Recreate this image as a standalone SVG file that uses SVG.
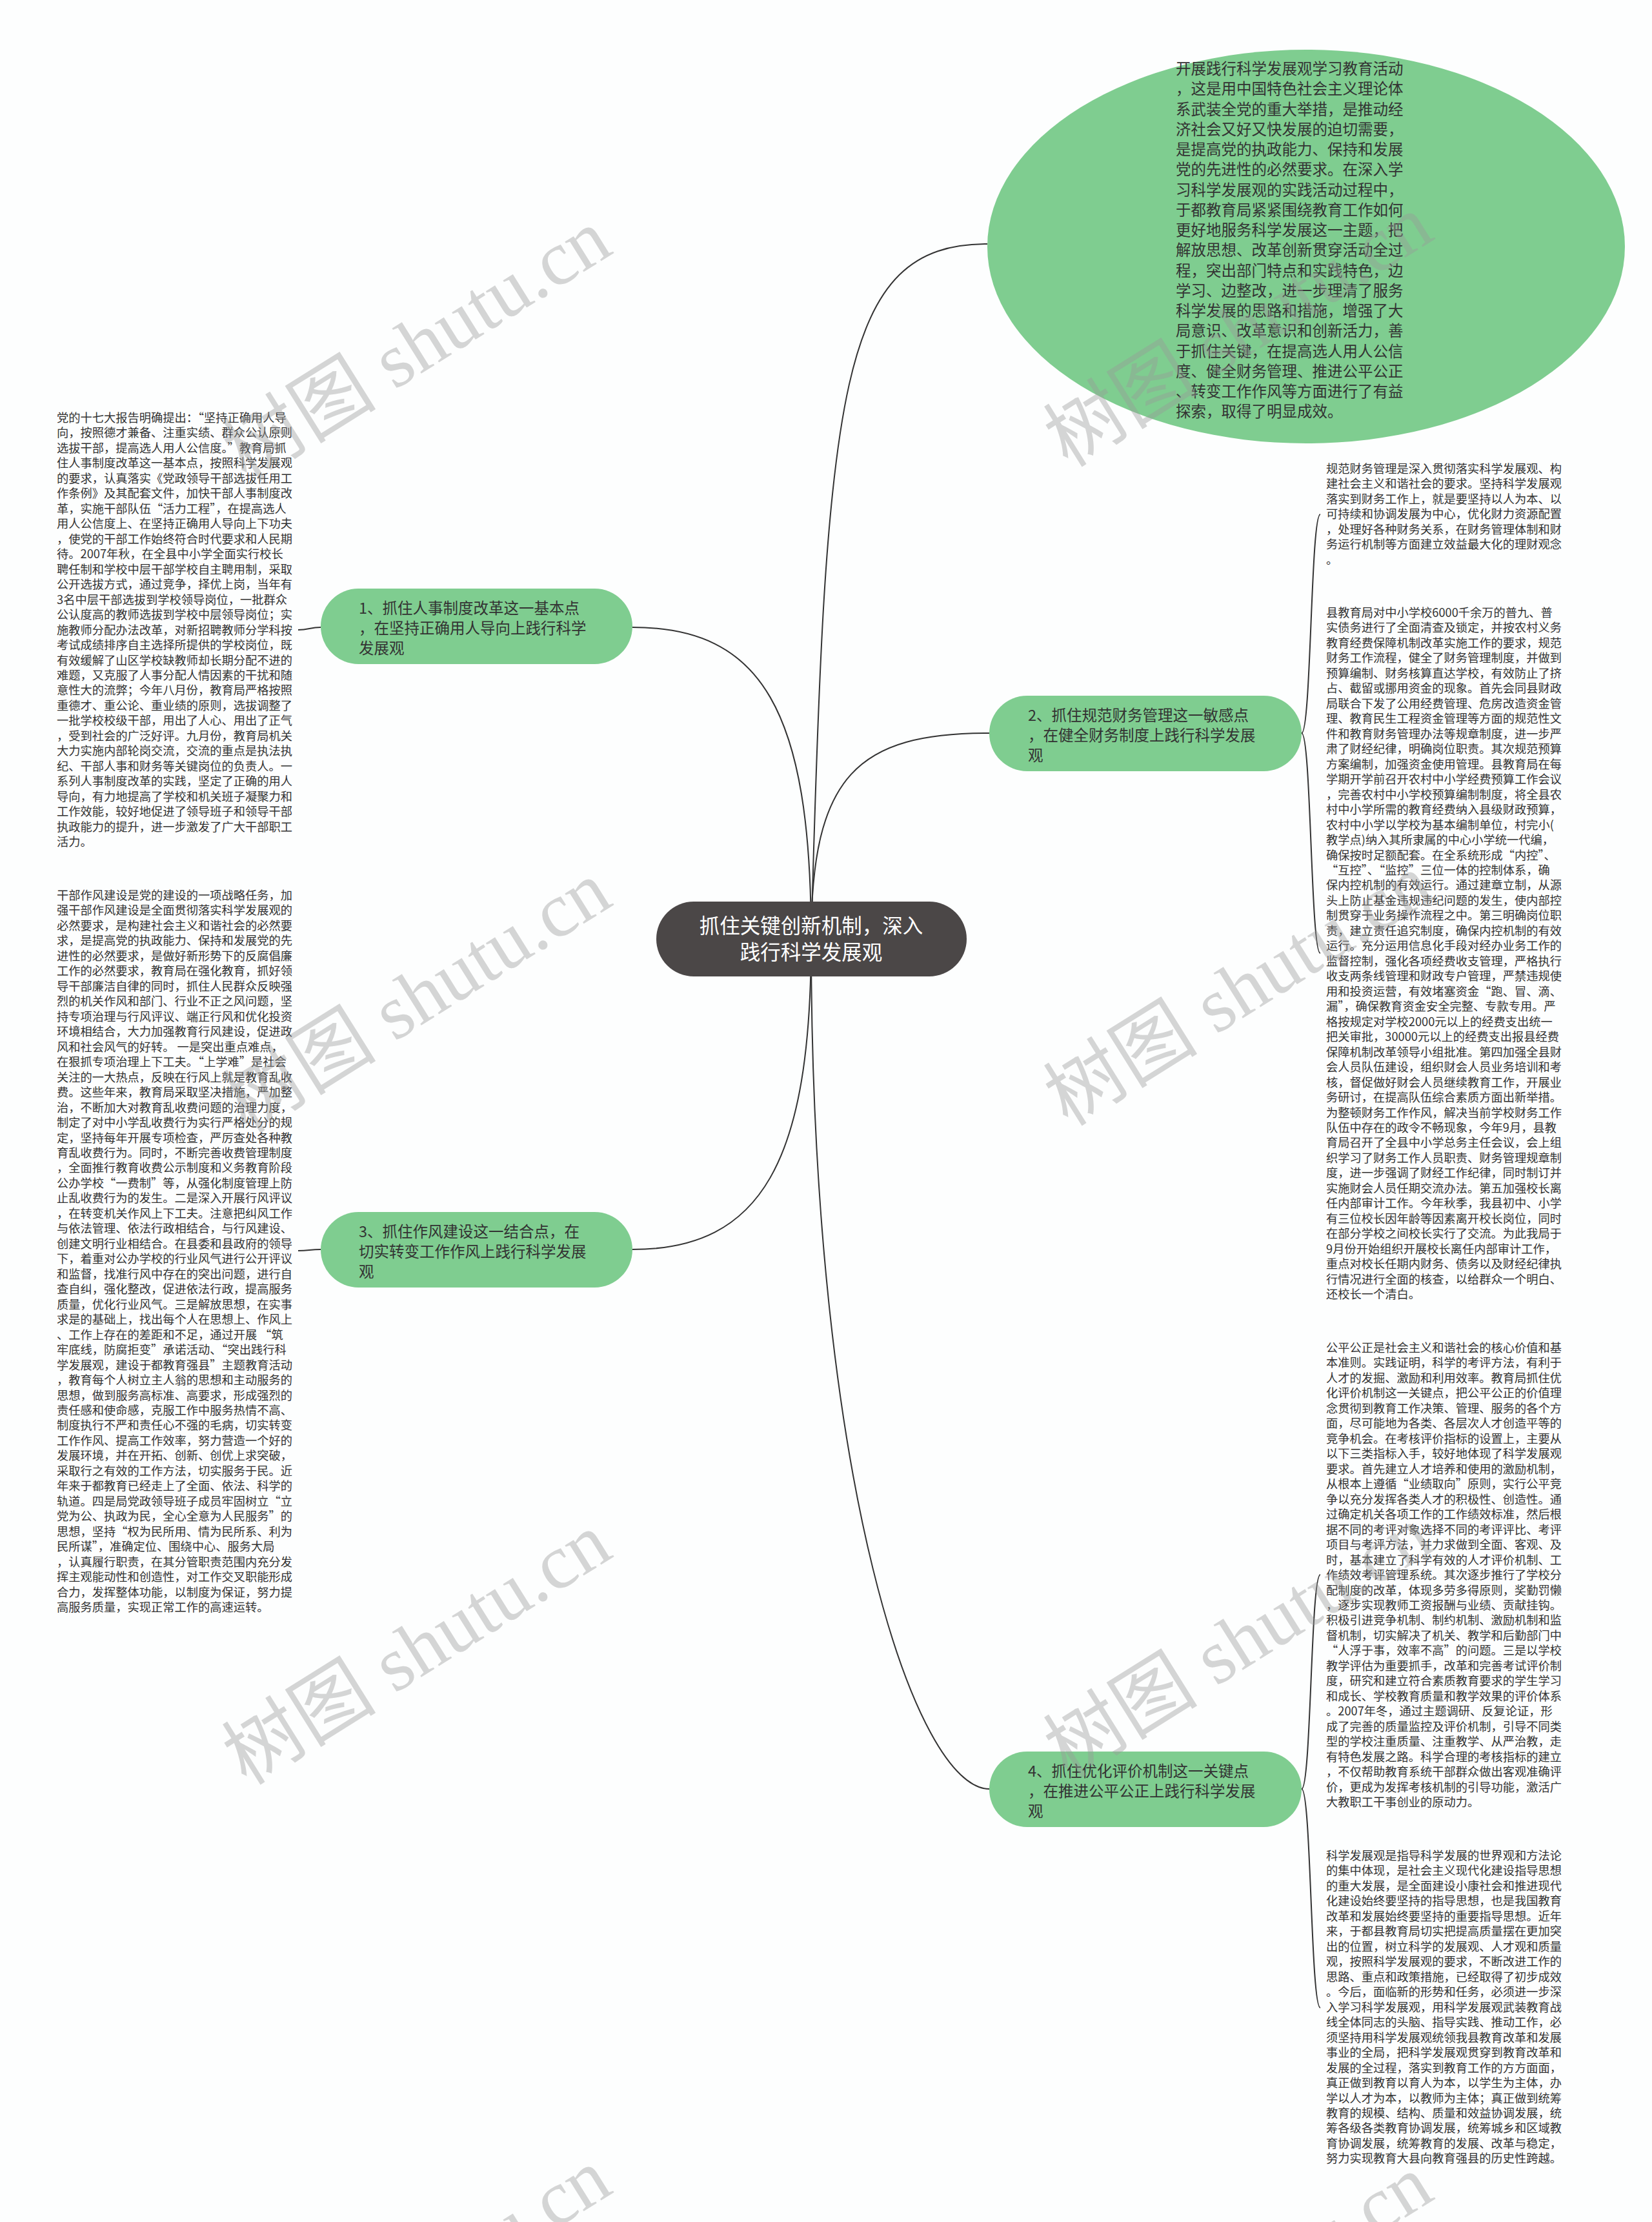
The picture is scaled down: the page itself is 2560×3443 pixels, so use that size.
<svg xmlns="http://www.w3.org/2000/svg" width="2560" height="3443" viewBox="0 0 2560 3443">
<style>
.t{font-family:"Noto Sans CJK SC","Noto Sans",sans-serif;fill:#333}
.s{font-size:18.25px}
.m{font-size:23.5px}
.c{font-size:31.5px;fill:#fff}
.ln{fill:none;stroke:#333;stroke-width:2}
.nd{fill:#7fcd90}
.wm{font-family:"Liberation Serif","Noto Sans CJK SC",serif;font-size:120px;fill:#999;opacity:0.4}
</style>
<rect width="2560" height="3443" fill="#fdfefe"/>
<g id="connectors">
<path class="ln" d="M1257,1455 C1280,600 1300,378 1530,378"/>
<path class="ln" d="M1257,1455 C1257,1200 1330,1136 1533,1136"/>
<path class="ln" d="M1257,1455 C1257,2300 1420,2772 1533,2772"/>
<path class="ln" d="M1257,1455 C1257,1100 1180,972 980,972"/>
<path class="ln" d="M1257,1455 C1257,1800 1180,1936 980,1936"/>
<path class="ln" d="M497,972 C480,972 479,976 462,976"/>
<path class="ln" d="M497,1936 C480,1936 479,1938 462,1938"/>
<path class="ln" d="M2017,1136 C2032,1136 2031,797 2046,797"/>
<path class="ln" d="M2017,1136 C2032,1136 2031,1477 2046,1477"/>
<path class="ln" d="M2017,2772 C2032,2772 2031,2440 2046,2440"/>
<path class="ln" d="M2017,2772 C2032,2772 2031,3111 2046,3111"/>
</g>
<g id="center">
<rect x="1017" y="1397" width="481" height="116" rx="58" fill="#4b4747"/>
<text class="t c" text-anchor="middle"><tspan x="1257" y="1446">抓住关键创新机制，深入</tspan><tspan x="1257" y="1487">践行科学发展观</tspan></text>
</g>
<g id="top-ellipse">
<ellipse cx="2024" cy="382" rx="494" ry="305" class="nd"/>
<text class="t m" x="1822" y="115"><tspan x="1822">开展践行科学发展观学习教育活动</tspan><tspan x="1822" dy="31.25">，这是用中国特色社会主义理论体</tspan><tspan x="1822" dy="31.25">系武装全党的重大举措，是推动经</tspan><tspan x="1822" dy="31.25">济社会又好又快发展的迫切需要，</tspan><tspan x="1822" dy="31.25">是提高党的执政能力、保持和发展</tspan><tspan x="1822" dy="31.25">党的先进性的必然要求。在深入学</tspan><tspan x="1822" dy="31.25">习科学发展观的实践活动过程中，</tspan><tspan x="1822" dy="31.25">于都教育局紧紧围绕教育工作如何</tspan><tspan x="1822" dy="31.25">更好地服务科学发展这一主题，把</tspan><tspan x="1822" dy="31.25">解放思想、改革创新贯穿活动全过</tspan><tspan x="1822" dy="31.25">程，突出部门特点和实践特色，边</tspan><tspan x="1822" dy="31.25">学习、边整改，进一步理清了服务</tspan><tspan x="1822" dy="31.25">科学发展的思路和措施，增强了大</tspan><tspan x="1822" dy="31.25">局意识、改革意识和创新活力，善</tspan><tspan x="1822" dy="31.25">于抓住关键，在提高选人用人公信</tspan><tspan x="1822" dy="31.25">度、健全财务管理、推进公平公正</tspan><tspan x="1822" dy="31.25">、转变工作作风等方面进行了有益</tspan><tspan x="1822" dy="31.25">探索，取得了明显成效。</tspan></text>
</g>
<g id="node1">
<rect x="497" y="912" width="483" height="117" rx="58.5" class="nd"/>
<text class="t m"><tspan x="556" y="950.5">1、抓住人事制度改革这一基本点</tspan><tspan x="556" y="981.5">，在坚持正确用人导向上践行科学</tspan><tspan x="556" y="1012.5">发展观</tspan></text>
</g>
<g id="node2">
<rect x="1533" y="1078" width="484" height="117" rx="58.5" class="nd"/>
<text class="t m"><tspan x="1593" y="1116.5">2、抓住规范财务管理这一敏感点</tspan><tspan x="1593" y="1147.5">，在健全财务制度上践行科学发展</tspan><tspan x="1593" y="1178.5">观</tspan></text>
</g>
<g id="node3">
<rect x="497" y="1878" width="483" height="117" rx="58.5" class="nd"/>
<text class="t m"><tspan x="556" y="1916.5">3、抓住作风建设这一结合点，在</tspan><tspan x="556" y="1947.5">切实转变工作作风上践行科学发展</tspan><tspan x="556" y="1978.5">观</tspan></text>
</g>
<g id="node4">
<rect x="1533" y="2714" width="484" height="117" rx="58.5" class="nd"/>
<text class="t m"><tspan x="1593" y="2752.5">4、抓住优化评价机制这一关键点</tspan><tspan x="1593" y="2783.5">，在推进公平公正上践行科学发展</tspan><tspan x="1593" y="2814.5">观</tspan></text>
</g>
<g id="text-left-1">
<text class="t s" x="88" y="654"><tspan x="88">党的十七大报告明确提出：“坚持正确用人导</tspan><tspan x="88" dy="23.47">向，按照德才兼备、注重实绩、群众公认原则</tspan><tspan x="88" dy="23.47">选拔干部，提高选人用人公信度。”教育局抓</tspan><tspan x="88" dy="23.47">住人事制度改革这一基本点，按照科学发展观</tspan><tspan x="88" dy="23.47">的要求，认真落实《党政领导干部选拔任用工</tspan><tspan x="88" dy="23.47">作条例》及其配套文件，加快干部人事制度改</tspan><tspan x="88" dy="23.47">革，实施干部队伍“活力工程”，在提高选人</tspan><tspan x="88" dy="23.47">用人公信度上、在坚持正确用人导向上下功夫</tspan><tspan x="88" dy="23.47">，使党的干部工作始终符合时代要求和人民期</tspan><tspan x="88" dy="23.47">待。2007年秋，在全县中小学全面实行校长</tspan><tspan x="88" dy="23.47">聘任制和学校中层干部学校自主聘用制，采取</tspan><tspan x="88" dy="23.47">公开选拔方式，通过竞争，择优上岗，当年有</tspan><tspan x="88" dy="23.47">3名中层干部选拔到学校领导岗位，一批群众</tspan><tspan x="88" dy="23.47">公认度高的教师选拔到学校中层领导岗位；实</tspan><tspan x="88" dy="23.47">施教师分配办法改革，对新招聘教师分学科按</tspan><tspan x="88" dy="23.47">考试成绩排序自主选择所提供的学校岗位，既</tspan><tspan x="88" dy="23.47">有效缓解了山区学校缺教师却长期分配不进的</tspan><tspan x="88" dy="23.47">难题，又克服了人事分配人情因素的干扰和随</tspan><tspan x="88" dy="23.47">意性大的流弊；今年八月份，教育局严格按照</tspan><tspan x="88" dy="23.47">重德才、重公论、重业绩的原则，选拔调整了</tspan><tspan x="88" dy="23.47">一批学校校级干部，用出了人心、用出了正气</tspan><tspan x="88" dy="23.47">，受到社会的广泛好评。九月份，教育局机关</tspan><tspan x="88" dy="23.47">大力实施内部轮岗交流，交流的重点是执法执</tspan><tspan x="88" dy="23.47">纪、干部人事和财务等关键岗位的负责人。一</tspan><tspan x="88" dy="23.47">系列人事制度改革的实践，坚定了正确的用人</tspan><tspan x="88" dy="23.47">导向，有力地提高了学校和机关班子凝聚力和</tspan><tspan x="88" dy="23.47">工作效能，较好地促进了领导班子和领导干部</tspan><tspan x="88" dy="23.47">执政能力的提升，进一步激发了广大干部职工</tspan><tspan x="88" dy="23.47">活力。</tspan></text>
</g>
<g id="text-left-2">
<text class="t s" x="88" y="1394"><tspan x="88">干部作风建设是党的建设的一项战略任务，加</tspan><tspan x="88" dy="23.47">强干部作风建设是全面贯彻落实科学发展观的</tspan><tspan x="88" dy="23.47">必然要求，是构建社会主义和谐社会的必然要</tspan><tspan x="88" dy="23.47">求，是提高党的执政能力、保持和发展党的先</tspan><tspan x="88" dy="23.47">进性的必然要求，是做好新形势下的反腐倡廉</tspan><tspan x="88" dy="23.47">工作的必然要求，教育局在强化教育，抓好领</tspan><tspan x="88" dy="23.47">导干部廉洁自律的同时，抓住人民群众反映强</tspan><tspan x="88" dy="23.47">烈的机关作风和部门、行业不正之风问题，坚</tspan><tspan x="88" dy="23.47">持专项治理与行风评议、端正行风和优化投资</tspan><tspan x="88" dy="23.47">环境相结合，大力加强教育行风建设，促进政</tspan><tspan x="88" dy="23.47">风和社会风气的好转。 一是突出重点难点，</tspan><tspan x="88" dy="23.47">在狠抓专项治理上下工夫。“上学难”是社会</tspan><tspan x="88" dy="23.47">关注的一大热点，反映在行风上就是教育乱收</tspan><tspan x="88" dy="23.47">费。这些年来，教育局采取坚决措施，严加整</tspan><tspan x="88" dy="23.47">治，不断加大对教育乱收费问题的治理力度，</tspan><tspan x="88" dy="23.47">制定了对中小学乱收费行为实行严格处分的规</tspan><tspan x="88" dy="23.47">定，坚持每年开展专项检查，严厉查处各种教</tspan><tspan x="88" dy="23.47">育乱收费行为。同时，不断完善收费管理制度</tspan><tspan x="88" dy="23.47">，全面推行教育收费公示制度和义务教育阶段</tspan><tspan x="88" dy="23.47">公办学校“一费制”等，从强化制度管理上防</tspan><tspan x="88" dy="23.47">止乱收费行为的发生。二是深入开展行风评议</tspan><tspan x="88" dy="23.47">，在转变机关作风上下工夫。注意把纠风工作</tspan><tspan x="88" dy="23.47">与依法管理、依法行政相结合，与行风建设、</tspan><tspan x="88" dy="23.47">创建文明行业相结合。在县委和县政府的领导</tspan><tspan x="88" dy="23.47">下，着重对公办学校的行业风气进行公开评议</tspan><tspan x="88" dy="23.47">和监督，找准行风中存在的突出问题，进行自</tspan><tspan x="88" dy="23.47">查自纠，强化整改，促进依法行政，提高服务</tspan><tspan x="88" dy="23.47">质量，优化行业风气。三是解放思想，在实事</tspan><tspan x="88" dy="23.47">求是的基础上，找出每个人在思想上、作风上</tspan><tspan x="88" dy="23.47">、工作上存在的差距和不足，通过开展 “筑</tspan><tspan x="88" dy="23.47">牢底线，防腐拒变”承诺活动、“突出践行科</tspan><tspan x="88" dy="23.47">学发展观，建设于都教育强县”主题教育活动</tspan><tspan x="88" dy="23.47">，教育每个人树立主人翁的思想和主动服务的</tspan><tspan x="88" dy="23.47">思想，做到服务高标准、高要求，形成强烈的</tspan><tspan x="88" dy="23.47">责任感和使命感，克服工作中服务热情不高、</tspan><tspan x="88" dy="23.47">制度执行不严和责任心不强的毛病，切实转变</tspan><tspan x="88" dy="23.47">工作作风、提高工作效率，努力营造一个好的</tspan><tspan x="88" dy="23.47">发展环境，并在开拓、创新、创优上求突破，</tspan><tspan x="88" dy="23.47">采取行之有效的工作方法，切实服务于民。近</tspan><tspan x="88" dy="23.47">年来于都教育已经走上了全面、依法、科学的</tspan><tspan x="88" dy="23.47">轨道。四是局党政领导班子成员牢固树立“立</tspan><tspan x="88" dy="23.47">党为公、执政为民，全心全意为人民服务”的</tspan><tspan x="88" dy="23.47">思想，坚持“权为民所用、情为民所系、利为</tspan><tspan x="88" dy="23.47">民所谋”，准确定位、围绕中心、服务大局</tspan><tspan x="88" dy="23.47">，认真履行职责，在其分管职责范围内充分发</tspan><tspan x="88" dy="23.47">挥主观能动性和创造性，对工作交叉职能形成</tspan><tspan x="88" dy="23.47">合力，发挥整体功能，以制度为保证，努力提</tspan><tspan x="88" dy="23.47">高服务质量，实现正常工作的高速运转。</tspan></text>
</g>
<g id="text-right-1">
<text class="t s" x="2055" y="733"><tspan x="2055">规范财务管理是深入贯彻落实科学发展观、构</tspan><tspan x="2055" dy="23.47">建社会主义和谐社会的要求。坚持科学发展观</tspan><tspan x="2055" dy="23.47">落实到财务工作上，就是要坚持以人为本、以</tspan><tspan x="2055" dy="23.47">可持续和协调发展为中心，优化财力资源配置</tspan><tspan x="2055" dy="23.47">，处理好各种财务关系，在财务管理体制和财</tspan><tspan x="2055" dy="23.47">务运行机制等方面建立效益最大化的理财观念</tspan><tspan x="2055" dy="23.47">。</tspan></text>
</g>
<g id="text-right-2">
<text class="t s" x="2055" y="956"><tspan x="2055">县教育局对中小学校6000千余万的普九、普</tspan><tspan x="2055" dy="23.47">实债务进行了全面清查及锁定，并按农村义务</tspan><tspan x="2055" dy="23.47">教育经费保障机制改革实施工作的要求，规范</tspan><tspan x="2055" dy="23.47">财务工作流程，健全了财务管理制度，并做到</tspan><tspan x="2055" dy="23.47">预算编制、财务核算直达学校，有效防止了挤</tspan><tspan x="2055" dy="23.47">占、截留或挪用资金的现象。首先会同县财政</tspan><tspan x="2055" dy="23.47">局联合下发了公用经费管理、危房改造资金管</tspan><tspan x="2055" dy="23.47">理、教育民生工程资金管理等方面的规范性文</tspan><tspan x="2055" dy="23.47">件和教育财务管理办法等规章制度，进一步严</tspan><tspan x="2055" dy="23.47">肃了财经纪律，明确岗位职责。其次规范预算</tspan><tspan x="2055" dy="23.47">方案编制，加强资金使用管理。县教育局在每</tspan><tspan x="2055" dy="23.47">学期开学前召开农村中小学经费预算工作会议</tspan><tspan x="2055" dy="23.47">，完善农村中小学校预算编制制度，将全县农</tspan><tspan x="2055" dy="23.47">村中小学所需的教育经费纳入县级财政预算，</tspan><tspan x="2055" dy="23.47">农村中小学以学校为基本编制单位，村完小(</tspan><tspan x="2055" dy="23.47">教学点)纳入其所隶属的中心小学统一代编，</tspan><tspan x="2055" dy="23.47">确保按时足额配套。在全系统形成“内控”、</tspan><tspan x="2055" dy="23.47">“互控”、“监控”三位一体的控制体系，确</tspan><tspan x="2055" dy="23.47">保内控机制的有效运行。通过建章立制，从源</tspan><tspan x="2055" dy="23.47">头上防止基金违规违纪问题的发生，使内部控</tspan><tspan x="2055" dy="23.47">制贯穿于业务操作流程之中。第三明确岗位职</tspan><tspan x="2055" dy="23.47">责，建立责任追究制度，确保内控机制的有效</tspan><tspan x="2055" dy="23.47">运行。充分运用信息化手段对经办业务工作的</tspan><tspan x="2055" dy="23.47">监督控制，强化各项经费收支管理，严格执行</tspan><tspan x="2055" dy="23.47">收支两条线管理和财政专户管理，严禁违规使</tspan><tspan x="2055" dy="23.47">用和投资运营，有效堵塞资金“跑、冒、滴、</tspan><tspan x="2055" dy="23.47">漏”，确保教育资金安全完整、专款专用。严</tspan><tspan x="2055" dy="23.47">格按规定对学校2000元以上的经费支出统一</tspan><tspan x="2055" dy="23.47">把关审批，30000元以上的经费支出报县经费</tspan><tspan x="2055" dy="23.47">保障机制改革领导小组批准。第四加强全县财</tspan><tspan x="2055" dy="23.47">会人员队伍建设，组织财会人员业务培训和考</tspan><tspan x="2055" dy="23.47">核，督促做好财会人员继续教育工作，开展业</tspan><tspan x="2055" dy="23.47">务研讨，在提高队伍综合素质方面出新举措。</tspan><tspan x="2055" dy="23.47">为整顿财务工作作风，解决当前学校财务工作</tspan><tspan x="2055" dy="23.47">队伍中存在的政令不畅现象，今年9月，县教</tspan><tspan x="2055" dy="23.47">育局召开了全县中小学总务主任会议，会上组</tspan><tspan x="2055" dy="23.47">织学习了财务工作人员职责、财务管理规章制</tspan><tspan x="2055" dy="23.47">度，进一步强调了财经工作纪律，同时制订并</tspan><tspan x="2055" dy="23.47">实施财会人员任期交流办法。第五加强校长离</tspan><tspan x="2055" dy="23.47">任内部审计工作。今年秋季，我县初中、小学</tspan><tspan x="2055" dy="23.47">有三位校长因年龄等因素离开校长岗位，同时</tspan><tspan x="2055" dy="23.47">在部分学校之间校长实行了交流。为此我局于</tspan><tspan x="2055" dy="23.47">9月份开始组织开展校长离任内部审计工作，</tspan><tspan x="2055" dy="23.47">重点对校长任期内财务、债务以及财经纪律执</tspan><tspan x="2055" dy="23.47">行情况进行全面的核查，以给群众一个明白、</tspan><tspan x="2055" dy="23.47">还校长一个清白。</tspan></text>
</g>
<g id="text-right-3">
<text class="t s" x="2055" y="2095"><tspan x="2055">公平公正是社会主义和谐社会的核心价值和基</tspan><tspan x="2055" dy="23.47">本准则。实践证明，科学的考评方法，有利于</tspan><tspan x="2055" dy="23.47">人才的发掘、激励和利用效率。教育局抓住优</tspan><tspan x="2055" dy="23.47">化评价机制这一关键点，把公平公正的价值理</tspan><tspan x="2055" dy="23.47">念贯彻到教育工作决策、管理、服务的各个方</tspan><tspan x="2055" dy="23.47">面，尽可能地为各类、各层次人才创造平等的</tspan><tspan x="2055" dy="23.47">竞争机会。在考核评价指标的设置上，主要从</tspan><tspan x="2055" dy="23.47">以下三类指标入手，较好地体现了科学发展观</tspan><tspan x="2055" dy="23.47">要求。首先建立人才培养和使用的激励机制，</tspan><tspan x="2055" dy="23.47">从根本上遵循“业绩取向”原则，实行公平竞</tspan><tspan x="2055" dy="23.47">争以充分发挥各类人才的积极性、创造性。通</tspan><tspan x="2055" dy="23.47">过确定机关各项工作的工作绩效标准，然后根</tspan><tspan x="2055" dy="23.47">据不同的考评对象选择不同的考评评比、考评</tspan><tspan x="2055" dy="23.47">项目与考评方法，并力求做到全面、客观、及</tspan><tspan x="2055" dy="23.47">时，基本建立了科学有效的人才评价机制、工</tspan><tspan x="2055" dy="23.47">作绩效考评管理系统。其次逐步推行了学校分</tspan><tspan x="2055" dy="23.47">配制度的改革，体现多劳多得原则，奖勤罚懒</tspan><tspan x="2055" dy="23.47">，逐步实现教师工资报酬与业绩、贡献挂钩。</tspan><tspan x="2055" dy="23.47">积极引进竞争机制、制约机制、激励机制和监</tspan><tspan x="2055" dy="23.47">督机制，切实解决了机关、教学和后勤部门中</tspan><tspan x="2055" dy="23.47">“人浮于事，效率不高”的问题。三是以学校</tspan><tspan x="2055" dy="23.47">教学评估为重要抓手，改革和完善考试评价制</tspan><tspan x="2055" dy="23.47">度，研究和建立符合素质教育要求的学生学习</tspan><tspan x="2055" dy="23.47">和成长、学校教育质量和教学效果的评价体系</tspan><tspan x="2055" dy="23.47">。2007年冬，通过主题调研、反复论证，形</tspan><tspan x="2055" dy="23.47">成了完善的质量监控及评价机制，引导不同类</tspan><tspan x="2055" dy="23.47">型的学校注重质量、注重教学、从严治教，走</tspan><tspan x="2055" dy="23.47">有特色发展之路。科学合理的考核指标的建立</tspan><tspan x="2055" dy="23.47">，不仅帮助教育系统干部群众做出客观准确评</tspan><tspan x="2055" dy="23.47">价，更成为发挥考核机制的引导功能，激活广</tspan><tspan x="2055" dy="23.47">大教职工干事创业的原动力。</tspan></text>
</g>
<g id="text-right-4">
<text class="t s" x="2055" y="2882"><tspan x="2055">科学发展观是指导科学发展的世界观和方法论</tspan><tspan x="2055" dy="23.47">的集中体现，是社会主义现代化建设指导思想</tspan><tspan x="2055" dy="23.47">的重大发展，是全面建设小康社会和推进现代</tspan><tspan x="2055" dy="23.47">化建设始终要坚持的指导思想，也是我国教育</tspan><tspan x="2055" dy="23.47">改革和发展始终要坚持的重要指导思想。近年</tspan><tspan x="2055" dy="23.47">来，于都县教育局切实把提高质量摆在更加突</tspan><tspan x="2055" dy="23.47">出的位置，树立科学的发展观、人才观和质量</tspan><tspan x="2055" dy="23.47">观，按照科学发展观的要求，不断改进工作的</tspan><tspan x="2055" dy="23.47">思路、重点和政策措施，已经取得了初步成效</tspan><tspan x="2055" dy="23.47">。今后，面临新的形势和任务，必须进一步深</tspan><tspan x="2055" dy="23.47">入学习科学发展观，用科学发展观武装教育战</tspan><tspan x="2055" dy="23.47">线全体同志的头脑、指导实践、推动工作，必</tspan><tspan x="2055" dy="23.47">须坚持用科学发展观统领我县教育改革和发展</tspan><tspan x="2055" dy="23.47">事业的全局，把科学发展观贯穿到教育改革和</tspan><tspan x="2055" dy="23.47">发展的全过程，落实到教育工作的方方面面，</tspan><tspan x="2055" dy="23.47">真正做到教育以育人为本，以学生为主体，办</tspan><tspan x="2055" dy="23.47">学以人才为本，以教师为主体；真正做到统筹</tspan><tspan x="2055" dy="23.47">教育的规模、结构、质量和效益协调发展，统</tspan><tspan x="2055" dy="23.47">筹各级各类教育协调发展，统筹城乡和区域教</tspan><tspan x="2055" dy="23.47">育协调发展，统筹教育的发展、改革与稳定，</tspan><tspan x="2055" dy="23.47">努力实现教育大县向教育强县的历史性跨越。</tspan></text>
</g>
<g id="watermarks">
<text class="wm" x="648" y="575" text-anchor="middle" transform="rotate(-32 648 538)">树图 shutu.cn</text>
<text class="wm" x="648" y="1585" text-anchor="middle" transform="rotate(-32 648 1548)">树图 shutu.cn</text>
<text class="wm" x="648" y="2595" text-anchor="middle" transform="rotate(-32 648 2558)">树图 shutu.cn</text>
<text class="wm" x="648" y="3580" text-anchor="middle" transform="rotate(-32 648 3543)">树图 shutu.cn</text>
<text class="wm" x="1921" y="553" text-anchor="middle" transform="rotate(-32 1921 516)">树图 shutu.cn</text>
<text class="wm" x="1921" y="1574" text-anchor="middle" transform="rotate(-32 1921 1537)">树图 shutu.cn</text>
<text class="wm" x="1921" y="2584" text-anchor="middle" transform="rotate(-32 1921 2547)">树图 shutu.cn</text>
<text class="wm" x="1921" y="3590" text-anchor="middle" transform="rotate(-32 1921 3553)">树图 shutu.cn</text>
</g>
</svg>
